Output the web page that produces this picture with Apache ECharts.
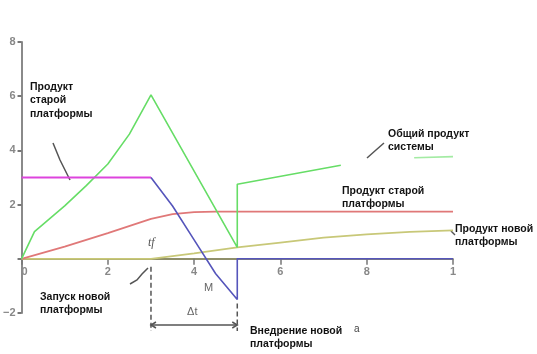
<!DOCTYPE html>
<html>
<head>
<meta charset="utf-8">
<script src="https://cdn.jsdelivr.net/npm/echarts@6/dist/echarts.min.js"></script>
<style>
  html, body { margin: 0; padding: 0; background: #fff; }
  #main { width: 537px; height: 354px; }
</style>
</head>
<body>
<div id="main"></div>
<script>
// values (x = time, y = product)
var totalProduct = [[0, 0], [0.3, 1.0], [1, 1.95], [1.5, 2.7], [2, 3.5], [2.5, 4.6], [3, 6.05], [5, 0.42], [5, 2.75], [7.4, 3.45]];
var totalTail = [[9.1, 3.73], [10, 3.77]];
var oldBefore = [[0, 3], [3, 3]];
var oldDecline = [[3, 3], [3.5, 1.95], [4, 0.7], [4.5, -0.55], [5, -1.5], [5, 0], [10, 0]];
var oldProduct = [[0, 0], [1, 0.45], [2, 0.95], [3, 1.47], [3.5, 1.65], [4, 1.72], [4.5, 1.74], [10, 1.74]];
var newProduct = [[0, 0], [3, 0], [4, 0.2], [5, 0.42], [6, 0.6], [7, 0.78], [8, 0.9], [9, 0.99], [10, 1.05]];
var xTicks = [0, 2, 4, 6, 8, 10];
var xTickLabels = ['0', '2', '4', '6', '8', '1'];
var yTickLabels = {8: '8', 6: '6', 4: '4', 2: '2', 0: '', '-2': '−2'};
var tf = 3, tImpl = 5;

var chart = echarts.init(document.getElementById('main'));

function line(data, color, width, opacity) {
  return {
    type: 'line', data: data, symbol: 'none', animation: false, silent: true,
    lineStyle: { color: color, width: width || 1.6, opacity: opacity == null ? 1 : opacity }
  };
}

chart.setOption({
  animation: false,
  grid: { left: 20, right: 84, top: 42, bottom: 41 },
  xAxis: {
    type: 'value', min: 0, max: 10, interval: 2,
    axisLine: { onZero: true, lineStyle: { color: '#6b6b3a', width: 1.5 } },
    axisTick: { show: true, length: 6, inside: false, lineStyle: { color: '#777', width: 1.5 } },
    axisLabel: { show: false },
    splitLine: { show: false }
  },
  yAxis: {
    type: 'value', min: -2, max: 8, interval: 2,
    axisLine: { show: true, onZero: false, lineStyle: { color: '#8a8a8a', width: 2 } },
    axisTick: { show: true, length: 4, lineStyle: { color: '#777', width: 2 } },
    axisLabel: {
      margin: 6, color: '#888', fontSize: 11, fontWeight: 'bold', fontFamily: 'Liberation Sans',
      formatter: function (v) { return yTickLabels[v] || ''; }
    },
    splitLine: { show: false }
  },
  series: [
    line(newProduct, '#c8c878', 1.8),
    line(oldProduct, '#e07878', 1.8),
    line(totalProduct, '#66dd66', 1.6),
    line(totalTail, '#66dd66', 1.6, 0.6),
    line(oldBefore, '#dd44dd', 1.8),
    line(oldDecline, '#5555bb', 1.6)
  ]
});

var p = function (x, y) { return chart.convertToPixel({ gridIndex: 0 }, [x, y]); };
var p0 = p(tf, 0), p1 = p(tImpl, -1.5);
var yArrow = 325, yDashEnd = 331;
var font = 'bold 10.5px "Liberation Sans"';

function txt(s, x, y, extra) {
  return { type: 'text', silent: true, style: Object.assign({ text: s, x: x, y: y, font: font, fill: '#111', lineHeight: 13.5 }, extra || {}) };
}
function seg(points, dash) {
  return { type: 'polyline', silent: true, shape: { points: points },
    style: { stroke: '#555', lineWidth: 1.5, lineDash: dash || null, fill: null } };
}

var graphics = [
  // dashed markers at tf and implementation time
  seg([[p0[0], p0[1] + 8], [p0[0], yDashEnd]], [5, 3]),
  seg([[p1[0], p1[1] + 4], [p1[0], yDashEnd]], [5, 3]),
  // delta t double arrow
  seg([[p0[0], yArrow], [p1[0], yArrow]]),
  seg([[p0[0] + 5, yArrow - 3], [p0[0], yArrow], [p0[0] + 5, yArrow + 3]]),
  seg([[p1[0] - 5, yArrow - 3], [p1[0], yArrow], [p1[0] - 5, yArrow + 3]]),
  txt('Δt', (p0[0] + p1[0]) / 2 - 7, 305, { font: '11px "Liberation Sans"', fill: '#666' }),
  txt('tf', p0[0] - 3, 236, { font: 'italic 12px "Liberation Serif"', fill: '#555' }),
  txt('M', 204, 281, { font: '11px "Liberation Sans"', fill: '#666' }),
  // pointer lines
  seg([[53, 143], [60, 160], [70, 180]]),
  seg([[130, 284], [137, 280], [142, 274], [148, 268]]),
  seg([[367, 158], [376, 150], [384, 143]]),
  seg([[451, 231], [455, 235]]),
  // annotations
  txt('Продукт\nстарой\nплатформы', 30, 80),
  txt('Запуск новой\nплатформы', 40, 290),
  txt('Внедрение новой\nплатформы', 250, 324),
  txt('a', 354, 322, { font: '10px "Liberation Sans"', fill: '#444' }),
  txt('Общий продукт\nсистемы', 388, 127),
  txt('Продукт старой\nплатформы', 342, 184),
  txt('Продукт новой\nплатформы', 455, 222)
];
// x tick labels just under the zero line
xTicks.forEach(function (v, i) {
  var q = p(v, 0);
  graphics.push({ type: 'text', silent: true, style: {
    text: xTickLabels[i], x: q[0] + (v === 0 ? 3 : 0), y: q[1] + 8, align: 'center',
    font: 'bold 11px "Liberation Sans"', fill: '#888' } });
});
chart.setOption({ graphic: graphics });
</script>
</body>
</html>
